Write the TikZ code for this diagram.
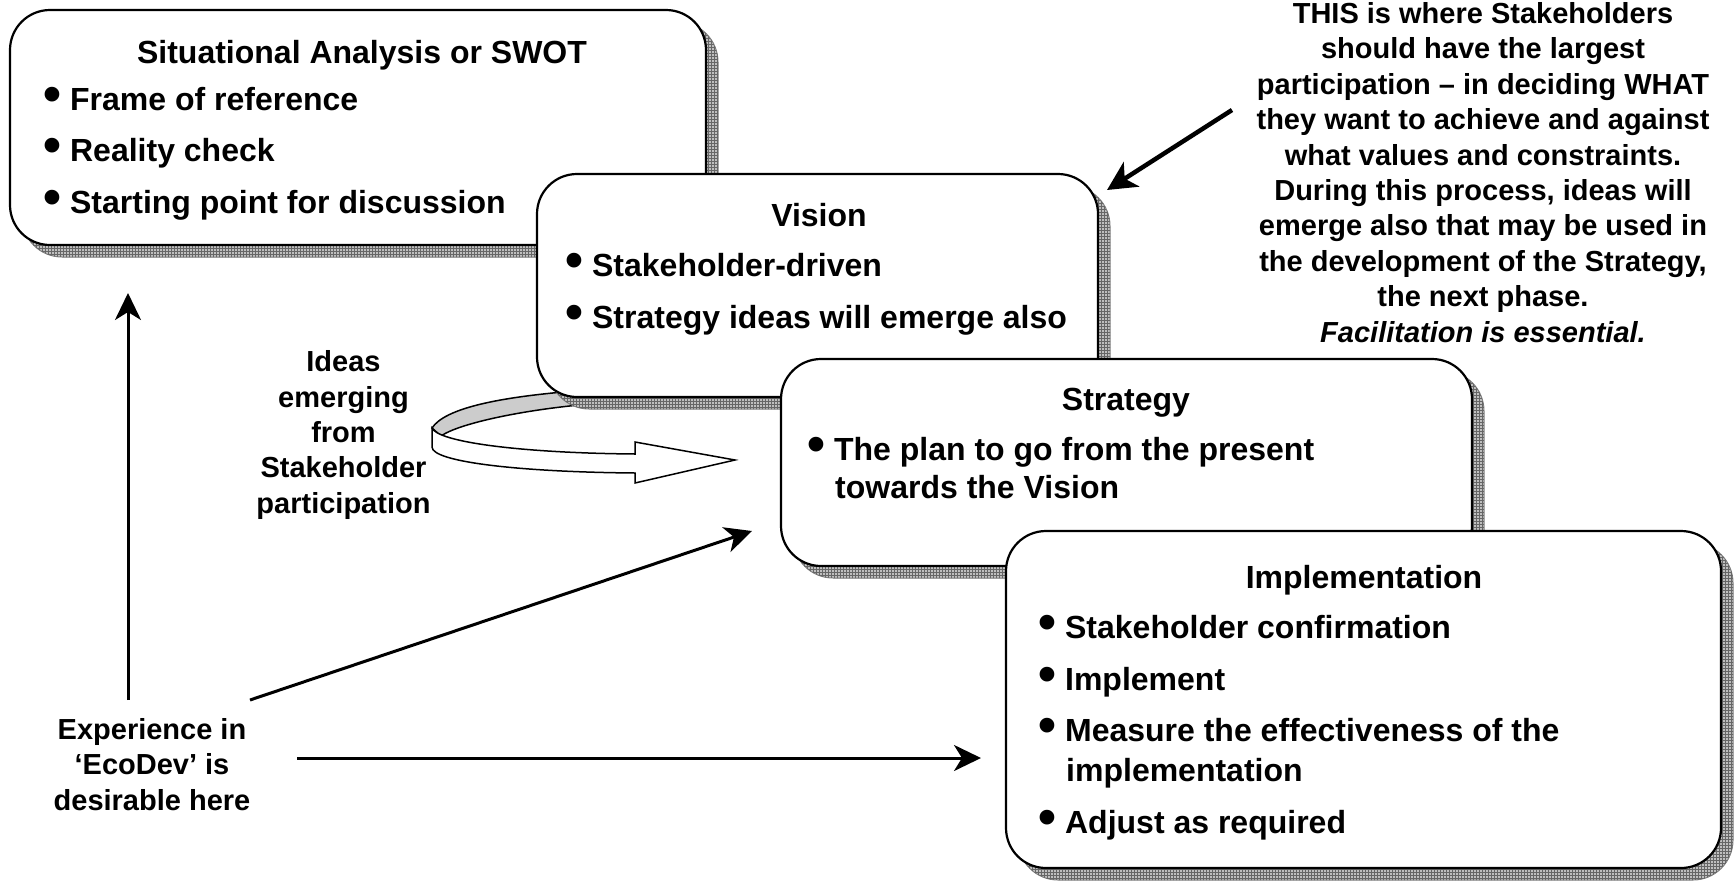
\documentclass[tikz,border=0pt]{standalone}
\usepackage{fontspec}
\setmainfont{Liberation Sans}
\usetikzlibrary{arrows.meta,shadows,patterns}
\definecolor{shadowgrey}{gray}{0.75}
\newcommand{\bul}{\raisebox{-1pt}{\scalebox{1.6}{\textbullet}}\hspace{9pt}}

\begin{document}
\begin{tikzpicture}[x=1pt,y=-1pt,
	box/.style={draw,line width=2.2pt,rounded corners=40pt,fill=white,inner sep=0pt,
		general shadow={shadow xshift=12pt,shadow yshift=-12pt,fill=shadowgrey,draw=gray,line width=1pt},
		general shadow={shadow xshift=12pt,shadow yshift=-12pt,pattern=grid,pattern color=gray!80!black}},
	head/.style={anchor=base,inner sep=0pt,node font=\bfseries\fontsize{32}{38}\selectfont},
	item/.style={anchor=base west,inner sep=0pt,node font=\bfseries\fontsize{32}{38}\selectfont},
	side/.style={anchor=base,inner sep=0pt,node font=\bfseries\fontsize{29}{35}\selectfont},
	arr/.style={line width=3pt,-{Stealth[length=27pt,width=26pt,inset=8pt]}}]
			\useasboundingbox (0,0) rectangle (1736,881);
			
			% back of the ribbon, under the boxes
			\filldraw[fill=gray!40,line width=1.5pt] (432,428) .. controls (445,408) and (500,397) .. (575,391)
				-- (590,404) .. controls (520,410) and (458,424) .. (441,436) -- cycle;
			
			\node[box,minimum width=696pt,minimum height=235pt] (sa) at (358,127.5) {};
			\node[box,minimum width=561pt,minimum height=223pt] (vi) at (817.5,285.5) {};
			\node[box,minimum width=691pt,minimum height=207pt] (st) at (1126.5,462.5) {};
			\node[box,minimum width=715pt,minimum height=337pt] (im) at (1363.5,699.5) {};
			
			% front of the ribbon
			\filldraw[fill=white,line width=1.5pt] (432,428) .. controls (438,442) and (520,453) .. (635,454)
				-- (635,442) -- (735,460) -- (635,483) -- (635,473)
				.. controls (520,472) and (432,462) .. (432,447) -- cycle;
			
			\draw (362,63.3) node[head] (sat) {Situational Analysis or SWOT};
			\draw (43,110) node[item] (sa1) {\bul Frame of reference};
			\draw (43,161.7) node[item] (sa2) {\bul Reality check};
			\draw (43,213.3) node[item] (sa3) {\bul Starting point for discussion};
			
			\draw (819,226.7) node[head] (vit) {Vision};
			\draw (565,276.7) node[item] (vi1) {\bul Stakeholder-driven};
			\draw (565,328) node[item] (vi2) {\bul Strategy ideas will emerge also};
			
			\draw (1126,410) node[head] (stt) {Strategy};
			\draw (807,460) node[item] (st1) {\bul The plan to go from the present};
			\draw (835,498.3) node[item] (st2) {towards the Vision};
			
			\draw (1364,588.3) node[head] (imt) {Implementation};
			\draw (1038,638.3) node[item] (im1) {\bul Stakeholder confirmation};
			\draw (1038,690) node[item] (im2) {\bul Implement};
			\draw (1038,741.7) node[item] (im3) {\bul Measure the effectiveness of the};
			\draw (1066,781.7) node[item] (im4) {implementation};
			\draw (1038,833.3) node[item] (im5) {\bul Adjust as required};
			
			\draw (1483,23.5) node[side] (n1) {THIS is where Stakeholders};
			\draw (1483,58.9) node[side] (n2) {should have the largest};
			\draw (1483,94.3) node[side] (n3) {participation – in deciding WHAT};
			\draw (1483,129.7) node[side] (n4) {they want to achieve and against};
			\draw (1483,165.1) node[side] (n5) {what values and constraints.};
			\draw (1483,200.5) node[side] (n6) {During this process, ideas will};
			\draw (1483,235.9) node[side] (n7) {emerge also that may be used in};
			\draw (1483,271.3) node[side] (n8) {the development of the Strategy,};
			\draw (1483,306.7) node[side] (n9) {the next phase.};
			\draw (1483,342.1) node[side] (n10) {\itshape Facilitation is essential.};
			
			\draw (343.5,371.7) node[side] (id1) {Ideas};
			\draw (343.5,407) node[side] (id2) {emerging};
			\draw (343.5,442.4) node[side] (id3) {from};
			\draw (343.5,477.8) node[side] (id4) {Stakeholder};
			\draw (343.5,513.2) node[side] (id5) {participation};
			
			\draw (152,739) node[side] (ex1) {Experience in};
			\draw (152,774.5) node[side] (ex2) {‘EcoDev’ is};
			\draw (152,810) node[side] (ex3) {desirable here};
			
			\coordinate (exup) at (128,700);
			\coordinate (exdiag) at (250,700);
			\coordinate (exright) at (297,758);
			\coordinate (saend) at (128,293);
			\coordinate (stend) at (752,531);
			\coordinate (imend) at (981,758);
			\coordinate (notestart) at (1232,110);
			\coordinate (viend) at (1107,190);
			
			\draw[arr] (exup) -- (saend);
			\draw[arr] (exdiag) -- (stend);
			\draw[arr] (exright) -- (imend);
			\draw[arr,line width=4.5pt,-{Stealth[length=29pt,width=29pt,inset=8pt]}] (notestart) -- (viend);
		\end{tikzpicture}
\end{document}
